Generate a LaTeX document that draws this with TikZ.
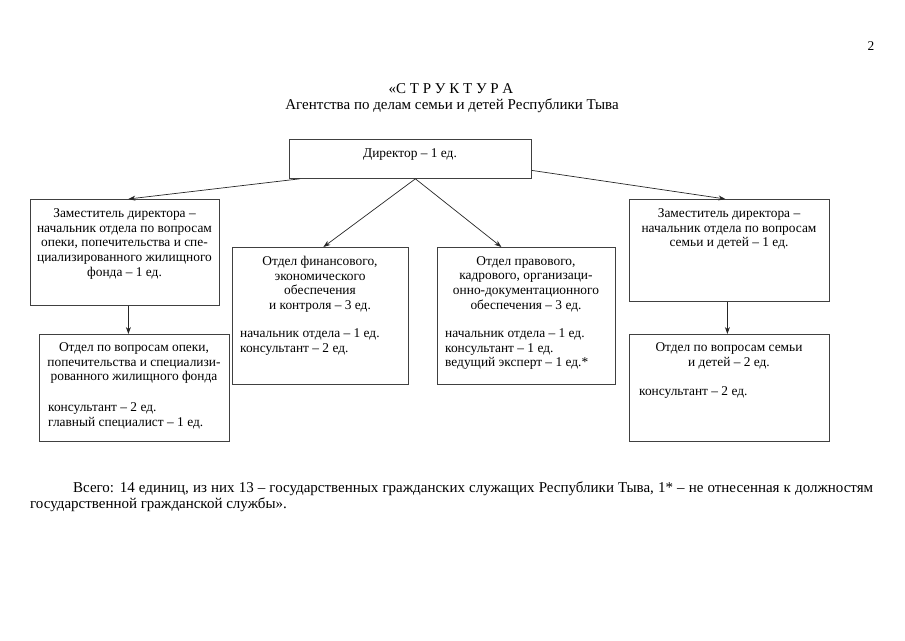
\documentclass[tikz,border=0pt]{standalone}
\usepackage{fontspec}
\setmainfont{Liberation Serif}
\usetikzlibrary{arrows.meta}
\begin{document}
\begin{tikzpicture}[x=1pt,y=-1pt,
  box/.style={draw=black!75,line width=0.8pt,anchor=north west,inner sep=0pt,fill=none},
  txt/.style={font=\fontsize{13.4}{14.7}\selectfont,inner sep=0pt,align=center,anchor=north},
  lst/.style={font=\fontsize{13.4}{14.7}\selectfont,inner sep=0pt,align=left,anchor=north west},
  big/.style={font=\fontsize{15}{16}\selectfont,anchor=base,inner sep=0pt},
  conn/.style={draw=black!85,line width=0.7pt,-{Stealth[length=7pt,width=5pt]}}]
\useasboundingbox (0,0) rectangle (905,640);
% page number and title
\node[font=\fontsize{13.4}{14.7}\selectfont,anchor=base,inner sep=0pt] (pg) at (871,50) {2};
\node[big] (t1) at (451,93) {«С Т Р У К Т У Р А};
\node[big] (t2) at (452,109) {Агентства по делам семьи и детей Республики Тыва};
% boxes
\node[box,minimum width=242,minimum height=39] (dir) at (289,139) {};
\node[box,minimum width=189,minimum height=106] (ldep) at (30,199) {};
\node[box,minimum width=190,minimum height=107] (ldept) at (39,334) {};
\node[box,minimum width=176,minimum height=137] (fin) at (232,247) {};
\node[box,minimum width=178,minimum height=137] (leg) at (437,247) {};
\node[box,minimum width=200,minimum height=102] (rdep) at (629,199) {};
\node[box,minimum width=200,minimum height=107] (rdept) at (629,334) {};
% texts
\node[txt] (dirT) at (410,148.5) {Директор – 1 ед.};
\node[txt] (ldepT) at (124.5,208.5) {Заместитель директора –\\начальник отдела по вопросам\\опеки, попечительства и спе-\\циализированного жилищного\\фонда – 1 ед.};
\node[txt] (ldeptT) at (134,342.5) {Отдел по вопросам опеки,\\попечительства и специализи-\\рованного жилищного фонда};
\node[lst] (ldeptL) at (48,402.5) {консультант – 2 ед.\\главный специалист – 1 ед.};
\node[txt] (finT) at (320,256) {Отдел финансового,\\экономического\\обеспечения\\и контроля – 3 ед.};
\node[lst] (finL) at (240,328.5) {начальник отдела – 1 ед.\\консультант – 2 ед.};
\node[txt] (legT) at (526,256) {Отдел правового,\\кадрового, организаци-\\онно-документационного\\обеспечения – 3 ед.};
\node[lst] (legL) at (445,328.5) {начальник отдела – 1 ед.\\консультант – 1 ед.\\ведущий эксперт – 1 ед.*};
\node[txt] (rdepT) at (729,208.5) {Заместитель директора –\\начальник отдела по вопросам\\семьи и детей – 1 ед.};
\node[txt] (rdeptT) at (729,342.5) {Отдел по вопросам семьи\\и детей – 2 ед.};
\node[lst] (rdeptL) at (639,386.5) {консультант – 2 ед.};
% footer
\node[font=\fontsize{15}{16}\selectfont,inner sep=0pt,anchor=north west,text width=843pt,align=justify] (foot) at (30,482)
 {\hspace*{43pt}Всего: 14 единиц, из них 13 – государственных гражданских служащих Республики Тыва, 1* – не отнесенная к должностям\linebreak государственной гражданской службы».};
% connectors
\draw[conn] ([xshift=11pt]dir.south west) -- ([xshift=3.5pt]ldep.north);
\draw[conn] ([yshift=-11.5pt]dir.east) -- ([xshift=-4pt]rdep.north);
\draw[conn] ([xshift=5pt]dir.south) -- ([xshift=3pt]fin.north);
\draw[conn] ([xshift=5pt]dir.south) -- ([xshift=-25pt]leg.north);
\coordinate (la) at ([xshift=3.5pt]ldep.south);
\draw[conn] (la) -- (la |- ldept.north);
\coordinate (ra) at ([xshift=-2pt]rdep.south);
\draw[conn] (ra) -- (ra |- rdept.north);
\end{tikzpicture}
\end{document}
